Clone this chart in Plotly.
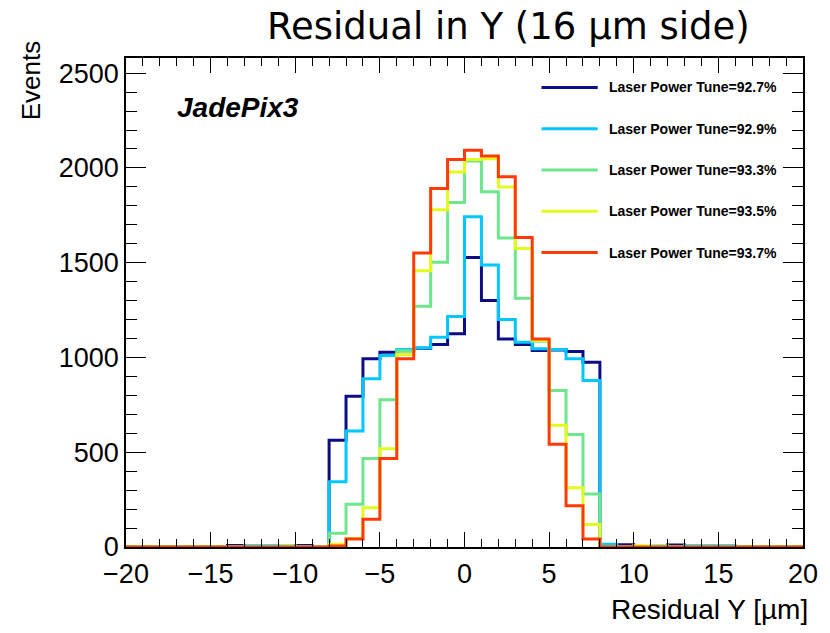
import plotly.graph_objects as go

# Residual histograms, 1 um bins from -20 to 20 um
bin_edges = list(range(-20, 21))

tune_labels = [
    "Laser Power Tune=92.7%",
    "Laser Power Tune=92.9%",
    "Laser Power Tune=93.3%",
    "Laser Power Tune=93.5%",
    "Laser Power Tune=93.7%",
]
colors = ["#0d0d85", "#00c8ff", "#6ee68c", "#e3fa1e", "#ff3a05"]

# counts per bin, bins [-20,-19) ... [19,20)
counts_927 = [0, 0, 0, 0, 0, 0, 8, 0, 0, 0, 8, 0,
              563, 795, 993, 1028, 1035, 1048, 1068, 1125,
              1528, 1300, 1098, 1068, 1037, 1040, 1032, 975,
              8, 12, 0, 0, 10, 0, 0, 0, 0, 0, 0, 0]
counts_929 = [0, 0, 0, 0, 0, 0, 0, 6, 6, 0, 0, 0,
              344, 612, 888, 1010, 1042, 1051, 1107, 1216,
              1742, 1488, 1200, 1080, 1046, 1042, 993, 879,
              14, 0, 0, 0, 0, 6, 6, 6, 0, 0, 0, 0]
counts_933 = [0, 0, 0, 0, 0, 0, 0, 0, 0, 6, 0, 0,
              72, 225, 467, 777, 1035, 1270, 1502, 1817,
              2037, 1874, 1630, 1312, 1085, 826, 593, 279,
              0, 0, 0, 7, 0, 0, 0, 0, 0, 0, 0, 0]
counts_935 = [0, 0, 0, 0, 0, 0, 0, 0, 0, 0, 0, 0,
              15, 45, 207, 519, 1015, 1458, 1779, 1979,
              2045, 2049, 1900, 1575, 1090, 642, 312, 119,
              0, 0, 7, 0, 0, 0, 0, 0, 0, 0, 0, 0]
counts_937 = [0, 0, 0, 0, 0, 0, 0, 0, 0, 0, 0, 0,
              5, 42, 147, 467, 993, 1551, 1891, 2045,
              2093, 2063, 1953, 1633, 1098, 542, 218, 42,
              0, 0, 0, 0, 0, 0, 0, 0, 0, 0, 0, 0]

series = [counts_927, counts_929, counts_933, counts_935, counts_937]

fig = go.Figure()
for name, col, counts in zip(tune_labels, colors, series):
    fig.add_trace(go.Scatter(
        x=bin_edges,
        y=counts + [counts[-1]],
        mode="lines",
        line=dict(color=col, width=3, shape="hv"),
        name=name,
        showlegend=False,
    ))

# plot frame in pixels
W, H = 830, 633
L, R, T, B = 126, 812, 58, 547
pw, ph = R - L, B - T


def px(x):
    return (x - L) / pw


def py(y):
    return (B - y) / ph


sans = "Liberation Sans, Arial, sans-serif"
tick_font = dict(family=sans, size=27, color="black")

fig.update_layout(
    width=W, height=H,
    margin=dict(l=L, r=W - R, t=T, b=H - B, pad=0),
    paper_bgcolor="white", plot_bgcolor="white",
    xaxis=dict(
        range=[-20, 20], tickmode="linear", tick0=-20, dtick=5,
        ticks="inside", ticklen=15, tickwidth=1.3, tickcolor="black",
        minor=dict(tickmode="linear", dtick=1, ticks="inside", ticklen=8,
                   tickwidth=1.3, tickcolor="black", showgrid=False),
        showline=True, linecolor="black", linewidth=1.5, mirror="allticks",
        showgrid=False, zeroline=False, tickfont=tick_font,
        ticklabelstandoff=2,
    ),
    yaxis=dict(
        range=[0, 2580], tickmode="linear", tick0=0, dtick=500,
        ticks="inside", ticklen=20, tickwidth=1.3, tickcolor="black",
        minor=dict(tickmode="linear", dtick=100, ticks="inside", ticklen=11,
                   tickwidth=1.3, tickcolor="black", showgrid=False),
        showline=True, linecolor="black", linewidth=1.5, mirror="allticks",
        showgrid=False, zeroline=False, tickfont=tick_font,
    ),
)

annotations = [
    dict(text="Residual in Y (16 µm side)", x=px(514), y=py(26),
         xref="paper", yref="paper", showarrow=False,
         xanchor="center", yanchor="middle",
         font=dict(family="DejaVu Sans", size=37, color="black")),
    dict(text="Events", x=px(30), y=py(80), textangle=-90,
         xref="paper", yref="paper", showarrow=False,
         xanchor="center", yanchor="middle",
         font=dict(family=sans, size=26, color="black")),
    dict(text="Residual Y [µm]", x=px(819), y=py(609),
         xref="paper", yref="paper", showarrow=False,
         xanchor="right", yanchor="middle",
         font=dict(family=sans, size=28, color="black")),
    dict(text="<b><i>JadePix3</i></b>", x=px(176), y=py(107),
         xref="paper", yref="paper", showarrow=False,
         xanchor="left", yanchor="middle",
         font=dict(family=sans, size=28, color="black")),
]

# legend block drawn in the upper right of the frame
shapes = []
row0, row_gap = 87.5, 41.25
for i, (name, col) in enumerate(zip(tune_labels, colors)):
    yy = py(row0 + i * row_gap)
    shapes.append(dict(type="line", xref="paper", yref="paper",
                       x0=px(547), x1=px(604), y0=yy, y1=yy,
                       line=dict(color=col, width=3)))
    annotations.append(dict(text="<b>" + name + "</b>", x=px(613), y=yy,
                            xref="paper", yref="paper", showarrow=False,
                            xanchor="left", yanchor="middle",
                            font=dict(family=sans, size=14, color="black")))

fig.update_layout(annotations=annotations, shapes=shapes)

fig.write_html("out.html")
